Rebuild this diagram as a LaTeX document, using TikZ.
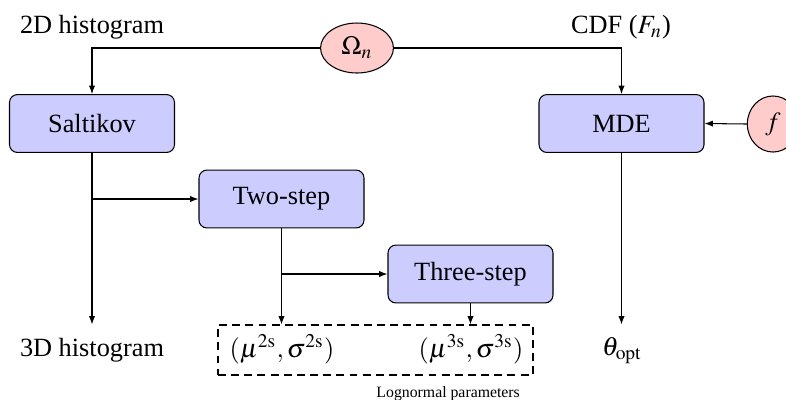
\documentclass[tikz,border=0pt]{standalone}
\usepackage[no-math]{fontspec}
\usepackage{mathptmx}
\setmainfont{Liberation Serif}
\usepackage{tikz}
\usetikzlibrary{arrows.meta,positioning,calc,shapes.geometric}
\tikzset{
  >={Latex[length=3.2pt,width=2.4pt]},
  method/.style={draw=black,line width=0.4pt,rounded corners=3pt,fill=blue!20,
                 align=center,minimum width=62.7pt,minimum height=22pt,inner sep=2pt},
  param/.style={ellipse,draw=black,line width=0.4pt,fill=red!20,inner sep=1pt},
  txt/.style={inner sep=2pt,align=center},
  lnbox/.style={draw=black,line width=0.4pt,dashed,dash pattern=on 3pt off 2pt,
                minimum width=119.7pt,minimum height=19pt,inner sep=0pt},
  flow/.style={->,line width=0.4pt,draw=black},
  note/.style={font=\fontsize{6}{7}\selectfont,inner sep=1pt},
}

\begin{document}
\begin{tikzpicture}[x=0.38pt,y=-0.38pt]
  \useasboundingbox (0,0) rectangle (786,399);

  % inputs
  \node[txt] (hist2d) at (92,27) {2D histogram};
  \node[txt] (cdf) at (621,27) {CDF ($F_n$)};
  \node[param,minimum width=27.7pt,minimum height=19pt] (omega) at (357,48) {$\Omega_n$};
  \node[param,minimum width=19.5pt,minimum height=21.3pt] (fdens) at (773,124) {$f$};

  % methods
  \node[method] (salt) at (92,123.5) {Saltikov};
  \node[method] (mde) at (621.5,123.5) {MDE};
  \node[method] (twostep) at (281.5,199) {Two-step};
  \node[method] (threestep) at (470.5,274) {Three-step};

  % outputs
  \node[txt] (hist3d) at (92,350) {3D histogram};
  \node[lnbox] (lnpar) at (375.5,350) {};
  \node[txt] (par2s) at (282,349) {$(\mu^{2\mathrm{s}},\sigma^{2\mathrm{s}})$};
  \node[txt] (par3s) at (471,349) {$(\mu^{3\mathrm{s}},\sigma^{3\mathrm{s}})$};
  \node[note,anchor=north east] (lnlabel) at (523,383) {Lognormal parameters};
  \node[txt] (theta) at (622,351) {$\theta_{\mathrm{opt}}$};

  % connectors
  \draw[flow] (omega.west) -| (salt.north);
  \draw[flow] (omega.east) -| (mde.north);
  \draw[flow] (fdens.west) -- (mde.east);
  \draw[flow] (salt.south) -- (salt.south |- lnpar.north);
  \coordinate (saltfork) at (salt.south |- twostep.west);
  \draw[flow] (saltfork) -- (twostep.west);
  \draw[flow] (twostep.south) -- (twostep.south |- lnpar.north);
  \coordinate (twofork) at (twostep.south |- threestep.west);
  \draw[flow] (twofork) -- (threestep.west);
  \draw[flow] (threestep.south) -- (threestep.south |- lnpar.north);
  \draw[flow] (mde.south) -- (mde.south |- lnpar.north);
\end{tikzpicture}
\end{document}
